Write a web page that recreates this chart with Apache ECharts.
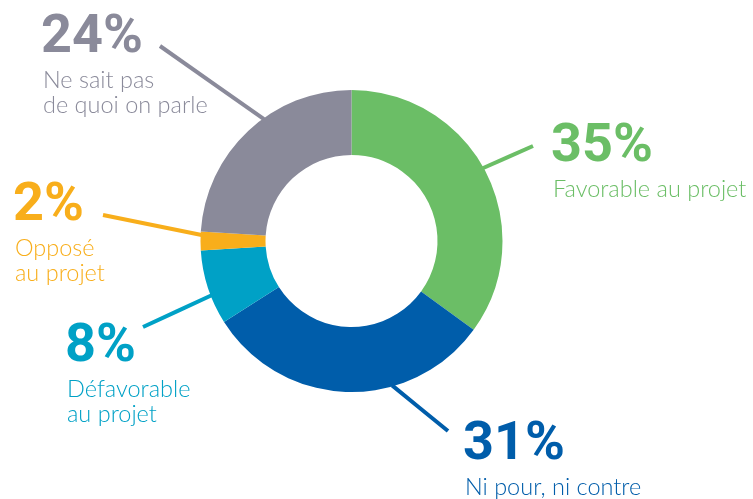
<!DOCTYPE html>
<html><head><meta charset="utf-8">
<script src="https://cdn.jsdelivr.net/npm/echarts@6/dist/echarts.min.js"></script>
<style>html,body{margin:0;padding:0;background:#fff}#c{width:753px;height:499px}</style>
</head><body><div id="c"></div>
<script>
// ---- data ----
const categories = ['Favorable au projet', 'Ni pour, ni contre', 'Défavorable\nau projet', 'Opposé\nau projet', 'Ne sait pas\nde quoi on parle'];
const values = [35, 31, 8, 2, 24];
const colors = ['#6BBE66', '#005DAA', '#00A1C6', '#F8AE1B', '#8A8A9A'];

// ---- layout (positions only) ----
const CX = 351.5, CY = 241, R_IN = 86, R_OUT = 151;
const labelPos = [[551, 117], [463, 415], [65, 317], [13, 176], [41, 8]];
const lineStartAngle = [29.0, -74.3, -158.8, 177.7, 125.7];
const lineEnd = [[533, 146], [448, 431], [143, 327], [103, 215], [160, 46]];

const chart = echarts.init(document.getElementById('c'), null, {renderer: 'canvas'});
const data = categories.map((name, i) => ({
  name: name, value: values[i],
  itemStyle: {color: colors[i]},
  label: {color: colors[i]},
  labelLine: {lineStyle: {color: colors[i], width: 4}}
}));

chart.setOption({
  animation: false,
  series: [{
    type: 'pie',
    center: [CX, CY],
    radius: [R_IN, R_OUT],
    startAngle: 90,
    clockwise: true,
    avoidLabelOverlap: false,
    emphasis: {disabled: true},
    silent: true,
    data: data,
    label: {
      show: true,
      position: 'outside',
      formatter: p => '{p|' + p.value + '%}\n{n|' + p.name + '}',
      rich: {
        p: {fontFamily: 'Roboto', fontWeight: 'bold', fontSize: 54, lineHeight: 60},
        n: {fontFamily: 'Lato', fontWeight: 300, fontSize: 23.5, lineHeight: 25, padding: [0, 0, 0, 2]}
      }
    },
    labelLine: {show: true, length: 10, length2: 10, lineStyle: {width: 4}},
    labelLayout: function (params) {
      const i = params.dataIndex;
      const a = lineStartAngle[i] * Math.PI / 180;
      const r = R_OUT - 1;
      const s = [CX + r * Math.cos(a), CY - r * Math.sin(a)];
      const e = lineEnd[i];
      return {
        x: labelPos[i][0], y: labelPos[i][1],
        align: 'left', verticalAlign: 'top',
        labelLinePoints: [s, [(s[0] + e[0]) / 2, (s[1] + e[1]) / 2], e]
      };
    }
  }]
});
</script></body></html>
